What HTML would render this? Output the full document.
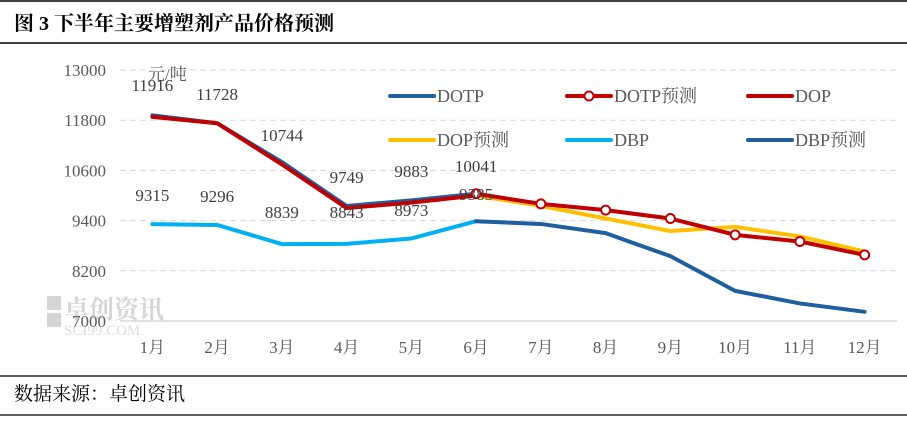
<!DOCTYPE html>
<html><head><meta charset="utf-8"><style>
body{margin:0;background:#fff;}
svg{display:block;font-family:"Liberation Serif","Noto Serif CJK SC",serif;}
</style></head><body>
<svg width="907" height="421">
<line x1="0" y1="1" x2="907" y2="1" stroke="#000" stroke-width="1.5"/>
<text x="14" y="30" font-size="20" font-weight="bold" fill="#000">图 3  下半年主要增塑剂产品价格预测</text>
<line x1="0" y1="43" x2="907" y2="43" stroke="#000" stroke-width="1.5"/>
<g id="grid"></g>
<g id="wm" opacity="0.4">
<rect x="47" y="296" width="14" height="14" fill="#999"/><rect x="47" y="313" width="14" height="14" fill="#999"/>
<text x="64" y="318" font-size="25" font-weight="bold" fill="#999">卓创资讯</text>
<text x="64" y="335" font-size="15" fill="#aaa">SCI99.COM</text>
</g>
<text x="148" y="80" font-size="17" fill="#595959">元/吨</text>
<g id="plot"></g>
<g id="legend"></g>
<line x1="0" y1="376" x2="907" y2="376" stroke="#000" stroke-width="1.2"/>
<text x="14" y="400" font-size="19" fill="#000">数据来源：卓创资讯</text>
<line x1="0" y1="415" x2="907" y2="415" stroke="#000" stroke-width="1.2"/>
</svg>
<script>
const categories=["1月","2月","3月","4月","5月","6月","7月","8月","9月","10月","11月","12月"];
const yTicks=[7000,8200,9400,10600,11800,13000];
const dotp=[11916,11728,10800,9749,9883,10041,null,null,null,null,null,null];
const dotpLabels=[11916,11728,10744,9749,9883,10041];
const dop=[11880,11728,10744,9700,9830,10000,null,null,null,null,null,null];
const dotpForecast=[null,null,null,null,null,10041,9800,9650,9450,9060,8900,8580];
const dopForecast=[null,null,null,null,null,10000,9750,9450,9150,9250,9020,8660];
const dbp=[9315,9296,8839,8843,8973,9385,null,null,null,null,null,null];
const dbpLabels=[9315,9296,8839,8843,8973,9385];
const dbpForecast=[null,null,null,null,null,9385,9320,9100,8550,7720,7420,7220];
const NS="http://www.w3.org/2000/svg";
const x0=120,bw=64.75,yTop=70,yBot=321,yMin=7000,yMax=13000;
const X=i=>x0+bw*(i+0.5);
const Y=v=>yBot-(v-yMin)/(yMax-yMin)*(yBot-yTop);
function el(t,a,p){const e=document.createElementNS(NS,t);for(const k in a)e.setAttribute(k,a[k]);p.appendChild(e);return e;}
const grid=document.getElementById('grid'),plot=document.getElementById('plot'),leg=document.getElementById('legend');
yTicks.forEach(v=>{
 if(v>yMin){const l=el('line',{x1:x0,x2:897,y1:Y(v),y2:Y(v),stroke:'#d9d9d9','stroke-dasharray':'6,4','stroke-width':1},grid);
 
 }
 const t=el('text',{x:106,y:Y(v)+6,'text-anchor':'end','font-size':17,fill:'#595959'},grid);t.textContent=v;
 
 
});
const ax=el('line',{x1:x0,x2:897,y1:yBot,y2:yBot,stroke:'#d9d9d9','stroke-width':1.5},grid);


categories.forEach((c,i)=>{
 const t=el('text',{x:X(i),y:353,'text-anchor':'middle','font-size':17,fill:'#595959'},grid);t.textContent=c;
 
 
});
function line(arr,color,name,w){
 const pts=[];arr.forEach((v,i)=>{if(v!=null)pts.push(X(i)+','+Y(v));});
 const p=el('polyline',{points:pts.join(' '),fill:'none',stroke:color,'stroke-width':w||4,'stroke-linejoin':'round','stroke-linecap':'round'},plot);
 
 
}
line(dotp,'#1F5FA0','dotp-line');
line(dop,'#C00000','dop-line');
line(dbp,'#00B0F0','dbp-line');
line(dbpForecast,'#1F5FA0','dbp-forecast-line');
line(dopForecast,'#FFC000','dop-forecast-line');
line(dotpForecast,'#C00000','dotp-forecast-line');
dotpForecast.forEach((v,i)=>{if(v==null)return;
 const c=el('circle',{cx:X(i),cy:Y(v),r:4.5,fill:'#fff',stroke:'#C00000','stroke-width':2},plot);
 
 
});
const upY=[91,100,141,183,177,172],loY=[201,202,218,218,216,200];
dotpLabels.forEach((v,i)=>{const t=el('text',{x:X(i),y:upY[i],'text-anchor':'middle','font-size':17,fill:'#404040'},plot);t.textContent=v;
 
 });
dbpLabels.forEach((v,i)=>{const t=el('text',{x:X(i),y:loY[i],'text-anchor':'middle','font-size':17,fill:'#404040'},plot);t.textContent=v;
 
 });
const legendItems=[["DOTP","#1F5FA0",390,96,0],["DOTP预测","#C00000",567,96,1],["DOP","#C00000",748,96,0],["DOP预测","#FFC000",390,140,0],["DBP","#00B0F0",567,140,0],["DBP预测","#1F5FA0",748,140,0]];
legendItems.forEach(([n,c,x,y,m])=>{
 const g=el('g',{},leg);
 
 
 el('line',{x1:x,x2:x+44,y1:y,y2:y,stroke:c,'stroke-width':4,'stroke-linecap':'round'},g);
 if(m)el('circle',{cx:x+22,cy:y,r:4.5,fill:'#fff',stroke:c,'stroke-width':2},g);
 const t=el('text',{x:x+47,y:y+6,'font-size':18,fill:'#595959'},g);t.textContent=n;
});
</script>
</body></html>
